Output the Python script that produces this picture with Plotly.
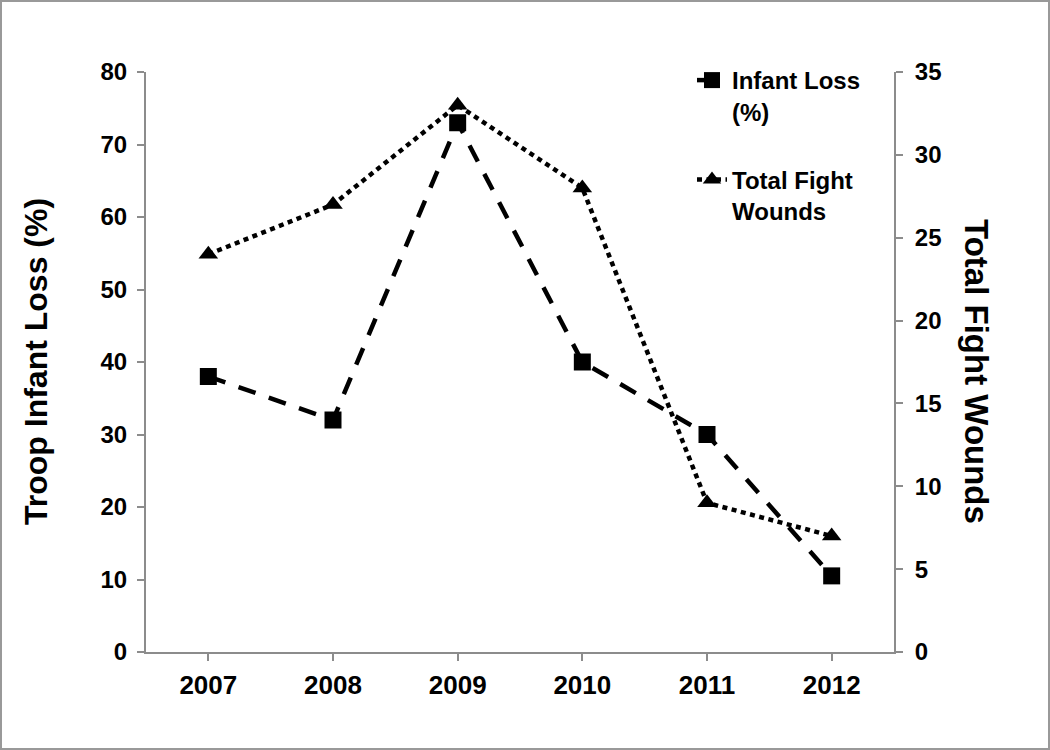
import plotly.graph_objects as go

# data
years = ["2007", "2008", "2009", "2010", "2011", "2012"]
infant_loss = [38, 32, 73, 40, 30, 10.5]
fight_wounds = [24, 27, 33, 28, 9, 7]
left_ticks = [0, 10, 20, 30, 40, 50, 60, 70, 80]
right_ticks = [0, 5, 10, 15, 20, 25, 30, 35]

W, H = 1050, 750
ML, MR, MT, MB = 146, 156, 72, 98
pw, ph = W - ML - MR, H - MT - MB

FONT = "Liberation Sans, Arial, sans-serif"
AXIS_GREY = "#8c8c8c"

fig = go.Figure()

fig.add_trace(go.Scatter(
    x=years, y=infant_loss,
    name="Infant Loss<br>(%)",
    mode="lines+markers",
    line=dict(color="black", width=4.5, dash="18px,14px"),
    marker=dict(symbol="square", size=17, color="black"),
    legendgroup="a",
))

fig.add_trace(go.Scatter(
    x=years, y=fight_wounds,
    name="Total Fight<br>Wounds",
    mode="lines+markers",
    line=dict(color="black", width=4.5, dash="5px,4.5px"),
    marker=dict(symbol="triangle-up", size=17, color="black"),
    yaxis="y2",
    legendgroup="b",
))

axis_common = dict(
    showgrid=False, zeroline=False,
    showline=True, linecolor=AXIS_GREY, linewidth=2,
    ticks="outside", tickcolor=AXIS_GREY, tickwidth=1.5, ticklen=7,
)

fig.update_layout(
    width=W, height=H,
    margin=dict(l=ML, r=MR, t=MT, b=MB),
    paper_bgcolor="white", plot_bgcolor="white",
    font=dict(family=FONT, color="black", weight="bold"),
    xaxis=dict(
        **axis_common,
        type="category", range=[-0.5, 5.5],
        tickfont=dict(size=26, family=FONT, weight="bold"),
        ticklabelstandoff=2,
    ),
    yaxis=dict(
        **axis_common,
        range=[0, 80], tickvals=left_ticks,
        tickfont=dict(size=24, family=FONT, weight="bold"),
        ticklabelstandoff=5,
    ),
    yaxis2=dict(
        **axis_common,
        overlaying="y", side="right", anchor="x",
        range=[0, 35], tickvals=right_ticks,
        tickfont=dict(size=24, family=FONT, weight="bold"),
        ticklabelstandoff=7,
    ),
    legend=dict(
        x=(692 - ML) / pw, y=1 + 14 / ph, xanchor="left", yanchor="top",
        bgcolor="rgba(0,0,0,0)",
        font=dict(size=24, family=FONT, weight="bold"),
        traceorder="grouped", tracegroupgap=34,
        valign="top", itemwidth=30,
    ),
    showlegend=True,
    annotations=[
        dict(text="Troop Infant Loss (%)", textangle=-90,
             xref="paper", yref="paper", x=(36 - ML) / pw,
             y=1 - (362 - MT) / ph,
             xanchor="center", yanchor="middle", showarrow=False,
             font=dict(size=32, family=FONT, weight="bold")),
        dict(text="Total Fight Wounds", textangle=90,
             xref="paper", yref="paper", x=(977 - ML) / pw,
             y=1 - (371 - MT) / ph,
             xanchor="center", yanchor="middle", showarrow=False,
             font=dict(size=33, family=FONT, weight="bold")),
    ],
    shapes=[
        dict(type="rect", xref="paper", yref="paper",
             x0=-(ML - 1) / pw, x1=1 + (MR - 1) / pw,
             y0=-(MB - 1) / ph, y1=1 + (MT - 1) / ph,
             line=dict(color="#999999", width=2), layer="above"),
    ],
)

fig.write_html(
    "out.html",
    config={"displayModeBar": False},
    post_script="document.body.style.margin='0';",
)
